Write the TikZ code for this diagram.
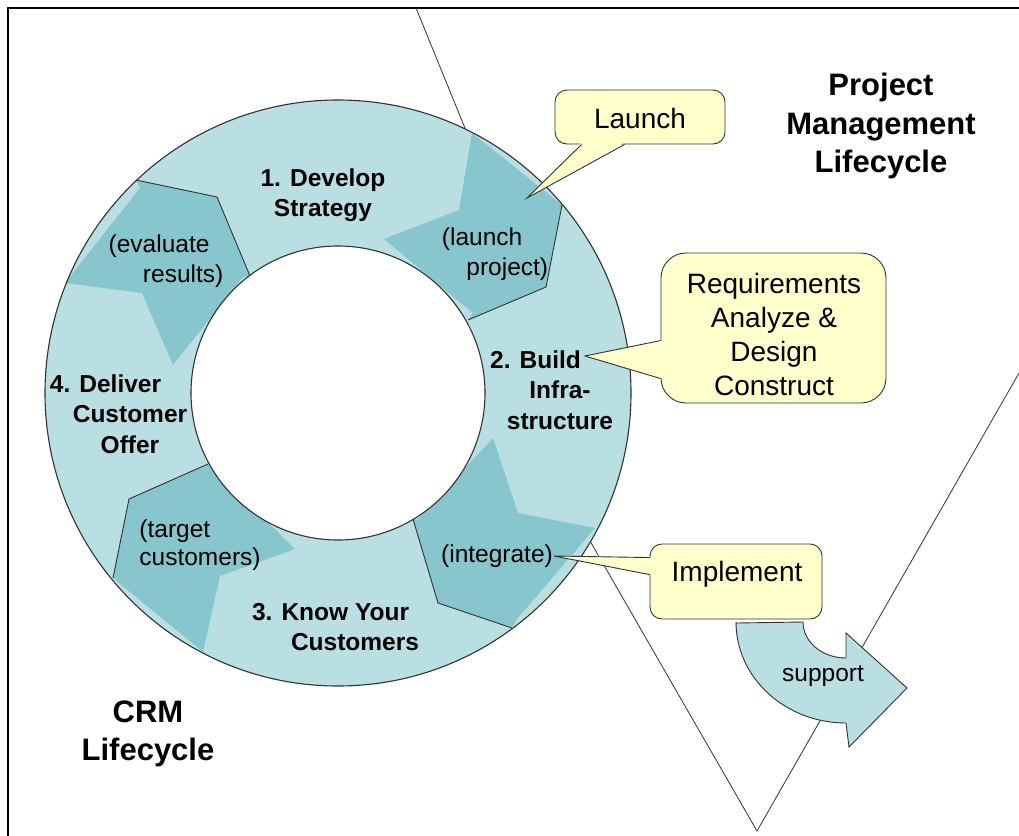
\documentclass[tikz,border=0pt]{standalone}
\usepackage{fontspec}
\setmainfont{Liberation Sans}
\usetikzlibrary{calc}

\definecolor{ringlight}{RGB}{185,223,227}
\definecolor{ringdark}{RGB}{134,198,204}
\definecolor{notefill}{RGB}{255,255,204}
\definecolor{edgegray}{RGB}{50,50,50}

\begin{document}
\begin{tikzpicture}[x=1pt,y=-1pt,
    stage/.style={font=\bfseries\fontsize{24.5}{30.5}\selectfont,align=center,inner sep=0pt},
    substage/.style={font=\fontsize{24.5}{29.5}\selectfont,align=left,inner sep=0pt},
    heading/.style={font=\bfseries\fontsize{31}{38.5}\selectfont,align=center,inner sep=0pt},
    notebox/.style={draw=edgegray,line width=0.9pt,fill=notefill,rounded corners=12pt,inner sep=0pt},
    notetext/.style={font=\fontsize{28}{34}\selectfont,align=center,inner sep=0pt},
    noteline/.style={draw=edgegray,line width=0.9pt,line join=miter},
    divider/.style={draw=edgegray,line width=0.9pt},
    rim/.style={draw=edgegray,line width=1.1pt},
    vline/.style={draw=black!80,line width=0.8pt}]
  \useasboundingbox (0,0) rectangle (1019,835);
  \fill[white] (0,0) rectangle (1019,835);
  \draw[line width=2.4pt] (1030,8) -- (8,8) -- (8,845);

  \coordinate (vtop) at (416,8);
  \coordinate (vhid) at (478,160);
  \coordinate (vstart) at (571,508);
  \coordinate (vapex) at (757,831);
  \coordinate (vend) at (1019,373);
  \draw[vline] (vtop) -- (vhid);
  \draw[vline] (vstart) -- (vapex) -- (vend);

  \coordinate (hub) at (338,393);
  \fill[ringlight] (hub) circle[radius=293];
  \fill[ringdark] (562,205) -- (546,287) -- (468,320) -- (473,313) -- (384,239) -- (459,210) -- (472,133) -- cycle;
  \fill[ringdark] (512,628) -- (438,603) -- (413,519) -- (417,520) -- (493,438) -- (518,513) -- (595,528) -- (517,619) -- cycle;
  \fill[ringdark] (113,578) -- (129,499) -- (208,464) -- (295,549) -- (220,576) -- (203,652) -- cycle;
  \fill[ringdark] (136,180) -- (217,197) -- (250,276) -- (243,277) -- (173,365) -- (142,293) -- (65,283) -- (140,188) -- cycle;
  \fill[white] (hub) circle[radius=147];
  \draw[divider] (562,205) -- (546,287) -- (468,320);
  \draw[divider] (512,628) -- (438,603) -- (413,519);
  \draw[divider] (113,578) -- (129,499) -- (208,464);
  \draw[divider] (136,180) -- (217,197) -- (250,276);
  \draw[rim] (hub) circle[radius=293];
  \draw[rim] (hub) circle[radius=147];

  \node[stage] (develop) at (323,195) {1. Develop\\Strategy};
  \node[stage] (build) at (560,390) {2. Build\hspace*{2em}\\Infra-\\structure};
  \node[stage] (know) at (355,627) {3. Know Your\hspace*{2em}\\Customers};
  \node[stage] (deliver) at (130,414) {4. Deliver\hspace*{2em}\\Customer\\Offer};
  \node[substage] (launchproj) at (495,254) {(launch\\\hspace*{1em}project)};
  \node[substage] (evaluate) at (166,261) {(evaluate\\\hspace*{1.4em}results)};
  \node[substage,font=\fontsize{24.5}{28.5}\selectfont] (target) at (200,545) {(target\\customers)};
  \node[substage] (integrate) at (497,556) {(integrate)};

  \node[heading] (pmtitle) at (881,126) {Project\\Management\\Lifecycle};
  \node[heading] (crmtitle) at (148,734) {CRM\\Lifecycle};

  \node[notebox,minimum width=170,minimum height=54] (launch) at (640,117) {};
  \node[notetext] (launchtext) at (640,118) {Launch};
  \coordinate (launchtip) at (527,198);
  \fill[notefill] ($(launch.south west)+(27,-2)$) -- (launchtip) -- ($(launch.south west)+(70,-2)$) -- cycle;
  \draw[noteline] ($(launch.south west)+(27,0)$) -- (launchtip) -- ($(launch.south west)+(70,0)$);

  \node[notebox,rounded corners=25pt,minimum width=225,minimum height=150] (require) at (773.5,328) {};
  \node[notetext] (requiretext) at (774,334) {Requirements\\Analyze \&\\Design\\Construct};
  \coordinate (requiretip) at (585,356);
  \fill[notefill] ($(require.north west)+(2,88)$) -- (requiretip) -- ($(require.north west)+(2,126)$) -- cycle;
  \draw[noteline] ($(require.north west)+(0,88)$) -- (requiretip) -- ($(require.north west)+(0,126)$);

  \node[notebox,minimum width=172,minimum height=75] (implement) at (736,581.5) {};
  \node[notetext] (implementtext) at (737,574) {Implement};
  \coordinate (implementtip) at (554,556);
  \fill[notefill] ($(implement.north west)+(2,14)$) -- (implementtip) -- ($(implement.north west)+(2,31)$) -- cycle;
  \draw[noteline] ($(implement.north west)+(0,14)$) -- (implementtip) -- ($(implement.north west)+(0,31)$);

  \draw[fill=ringlight,draw=edgegray,line width=0.9pt] (736,623) -- (803,622)
    arc[start angle=180,end angle=90,x radius=43,y radius=36] -- (846,633) -- (907,688)
    -- (849,747) -- (846,723) arc[start angle=90,end angle=180,x radius=110,y radius=101] -- cycle;
  \node[substage] (support) at (823,676) {support};
\end{tikzpicture}
\end{document}
